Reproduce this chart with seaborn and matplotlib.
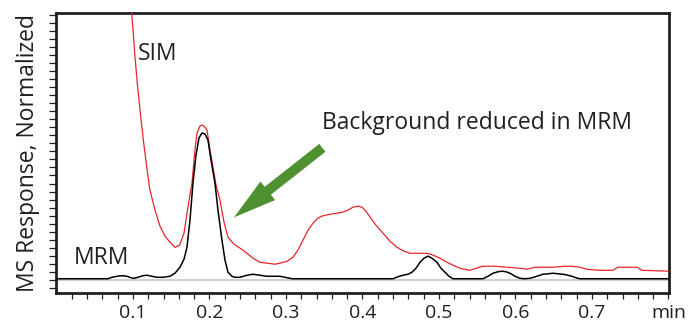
import numpy as np
import pandas as pd
import matplotlib
matplotlib.use("Agg")
import matplotlib.pyplot as plt
import seaborn as sns

# Retention time (min) and normalized response for each trace
sim_time = [0.0971, 0.0983, 0.1004, 0.1026, 0.1056, 0.1092, 0.1135, 0.1179, 0.1222, 0.1288,
            0.1353, 0.1418, 0.1484, 0.1549, 0.1608, 0.1667, 0.1723, 0.1771, 0.1810, 0.1837,
            0.1876, 0.1902, 0.1941, 0.1967, 0.2007, 0.2046, 0.2085, 0.2137, 0.2190, 0.2242,
            0.2320, 0.2399, 0.2490, 0.2569, 0.2660, 0.2752, 0.2856, 0.2922, 0.3013, 0.3092,
            0.3157, 0.3222, 0.3288, 0.3353, 0.3418, 0.3471, 0.3575, 0.3667, 0.3745, 0.3810,
            0.3876, 0.3941, 0.3993, 0.4046, 0.4098, 0.4176, 0.4268, 0.4359, 0.4451, 0.4542,
            0.4621, 0.4752, 0.4843, 0.4922, 0.5013, 0.5105, 0.5183, 0.5275, 0.5405, 0.5484,
            0.5575, 0.5732, 0.5889, 0.6059, 0.6150, 0.6255, 0.6386, 0.6490, 0.6647, 0.6739,
            0.6843, 0.6935, 0.7105, 0.7275, 0.7314, 0.7340, 0.7471, 0.7588, 0.7654, 0.7824,
            0.8007]
sim_resp = [198.3, 182.3, 168.5, 152.4, 134.2, 115.8, 95.2, 76.8, 60.8, 47.1,
            36.1, 29.2, 25.1, 21.6, 23.0, 31.3, 50.5, 65.6, 88.3, 100.0,
            104.8, 105.5, 104.1, 102.1, 88.3, 76.6, 64.3, 53.9, 38.8, 28.5,
            23.7, 21.0, 17.5, 14.1, 11.3, 10.7, 10.0, 10.7, 12.0, 14.8,
            19.6, 26.5, 33.3, 38.1, 41.6, 43.0, 44.3, 45.0, 45.7, 47.1,
            49.1, 49.8, 49.1, 46.4, 42.3, 36.8, 31.3, 25.8, 21.6, 18.9,
            17.5, 17.5, 17.5, 16.2, 14.1, 11.3, 9.3, 7.2, 5.8, 7.2,
            8.6, 8.6, 7.9, 7.2, 6.5, 7.9, 7.9, 7.9, 8.6, 8.6,
            7.9, 6.5, 5.8, 5.8, 7.2, 7.9, 7.9, 7.9, 5.8, 5.5,
            5.2]

mrm_time = [0.0, 0.0673, 0.0725, 0.0791, 0.0856, 0.0922, 0.0974, 0.1013, 0.1065, 0.1131,
            0.1183, 0.1248, 0.1314, 0.1392, 0.1484, 0.1549, 0.1614, 0.1667, 0.1706, 0.1745,
            0.1784, 0.1824, 0.1863, 0.1902, 0.1941, 0.1980, 0.2020, 0.2072, 0.2111, 0.2163,
            0.2203, 0.2242, 0.2294, 0.2333, 0.2399, 0.2490, 0.2569, 0.2660, 0.2752, 0.2856,
            0.2922, 0.2987, 0.3052, 0.3092, 0.4399, 0.4464, 0.4529, 0.4595, 0.4647, 0.4699,
            0.4752, 0.4804, 0.4856, 0.4908, 0.4974, 0.5026, 0.5078, 0.5131, 0.5183, 0.5575,
            0.5641, 0.5706, 0.5771, 0.5824, 0.5876, 0.5928, 0.5993, 0.6059, 0.6124, 0.6190,
            0.6281, 0.6359, 0.6425, 0.6490, 0.6556, 0.6621, 0.6686, 0.6739, 0.6791, 0.6843,
            0.8007]
mrm_resp = [0, 0, 1.0, 1.7, 2.1, 1.7, 0.7, 0.3, 1.0, 2.1,
            2.4, 1.7, 1.0, 1.0, 1.7, 3.8, 7.9, 13.4, 21.6, 40.2,
            65.6, 84.9, 96.6, 100.0, 99.3, 95.2, 81.4, 65.6, 47.1, 26.5,
            12.7, 4.5, 1.7, 1.0, 1.0, 2.4, 3.1, 2.4, 1.7, 1.7,
            1.7, 1.0, 0.3, 0, 0, 1.4, 2.4, 3.1, 4.5, 7.2,
            11.3, 14.1, 15.5, 14.1, 11.3, 7.2, 4.5, 1.7, 0, 0,
            1.7, 3.8, 4.8, 5.2, 4.8, 3.8, 1.7, 0.3, 0, 0.3,
            1.7, 3.1, 3.4, 3.8, 3.4, 3.1, 2.4, 1.7, 0.7, 0,
            0]

tick_values = [0.1, 0.2, 0.3, 0.4, 0.5, 0.6, 0.7, 0.8]
tick_labels = ["0.1", "0.2", "0.3", "0.4", "0.5", "0.6", "0.7", "min"]

sns.set_theme(style="ticks")
plt.rcParams["font.family"] = ["Open Sans", "DejaVu Sans"]

ink = "#231f20"
red = "#e8252a"
green = "#4f902f"

fig = plt.figure(figsize=(6.93, 3.25), dpi=100)
ax = fig.add_axes([0.0815, 0.0985, 0.8839, 0.8615])

sim_df = pd.DataFrame({"time": sim_time, "response": sim_resp})
mrm_df = pd.DataFrame({"time": mrm_time, "response": mrm_resp})

ax.axhline(-0.6, color="#c9c9c9", lw=1.3, zorder=1)
sns.lineplot(data=sim_df, x="time", y="response", ax=ax, color=red, lw=0.9,
             sort=False, estimator=None, zorder=3)
sns.lineplot(data=mrm_df, x="time", y="response", ax=ax, color="black", lw=1.1,
             sort=False, estimator=None, zorder=4)

ax.set_xlim(0, 0.8007)
ax.set_ylim(-9.76, 182.3)

ax.set_xticks(tick_values)
ax.set_xticklabels(tick_labels)
ax.set_xticks(np.arange(0.02, 0.8, 0.02), minor=True)
ax.set_yticks(np.linspace(-6.32, 181.1, 35))
ax.set_yticklabels([])
ax.tick_params(axis="both", which="both", direction="out", width=0.9,
               color=ink, labelcolor=ink)
ax.tick_params(axis="x", which="both", length=4.6)
ax.tick_params(axis="y", which="both", length=5.4)
ax.tick_params(axis="x", which="major", labelsize=14, pad=3.5)
ax.tick_params(left=True, right=False, top=False, bottom=True)

for side in ["left", "right", "top", "bottom"]:
    ax.spines[side].set_visible(True)
    ax.spines[side].set_linewidth(2.0)
    ax.spines[side].set_color(ink)

ax.set_xlabel("")
ax.set_ylabel("MS Response, Normalized", fontsize=16.5, color=ink, labelpad=3)

ax.text(0.1065, 150.2, "SIM", fontsize=16.5, color=ink, va="baseline", ha="left")
ax.text(0.0220, 10.4, "MRM", fontsize=16.5, color=ink, va="baseline", ha="left")
ax.text(0.3477, 102.4, "Background reduced in MRM", fontsize=16.5, color=ink,
        va="baseline", ha="left")

ax.annotate("", xy=(0.2320, 42.1), xytext=(0.3475, 89.8),
            arrowprops=dict(arrowstyle="simple,head_length=31,head_width=17,tail_width=7.2",
                            mutation_scale=1, color=green, lw=0,
                            shrinkA=0, shrinkB=0))

fig.savefig("out.png", dpi=100)
